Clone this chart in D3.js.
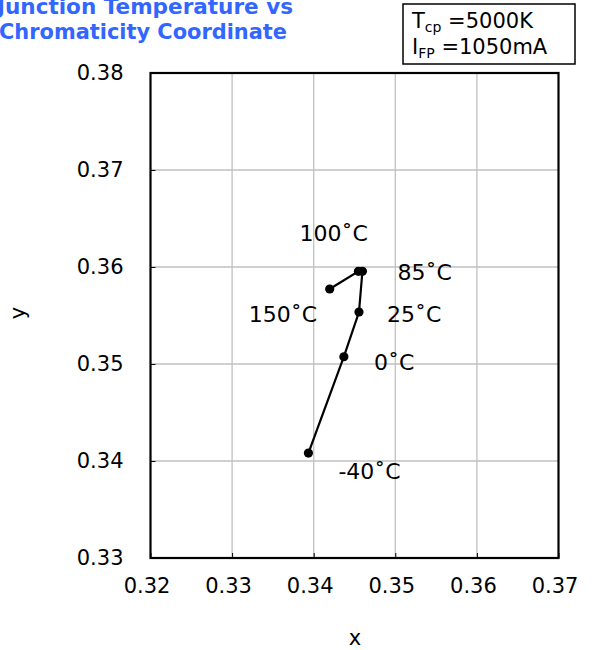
<!DOCTYPE html>
<html><head><meta charset="utf-8">
<script src="https://cdn.jsdelivr.net/npm/d3@7"></script>
<style>html,body{margin:0;padding:0;background:#fff;} svg{display:block;font-family:"DejaVu Sans",Verdana,sans-serif;}</style>
</head><body><div id="chart"></div>
<script>
const temps = ["-40", "0", "25", "85", "100", "150"];
const xVals = [0.33935, 0.3437, 0.34555, 0.34597, 0.34548, 0.34196];
const yVals = [0.34082, 0.35075, 0.35536, 0.35955, 0.35955, 0.35773];
const xTicks = [0.32, 0.33, 0.34, 0.35, 0.36, 0.37];
const yTicks = [0.33, 0.34, 0.35, 0.36, 0.37, 0.38];
const titleLines = ["Junction Temperature vs", "Chromaticity Coordinate"];

const W = 594, H = 650;
const L = 150.5, R = 558.5, T = 73, B = 558;
const svg = d3.select("#chart").append("svg").attr("width", W).attr("height", H);
const x = d3.scaleLinear().domain([0.32, 0.37]).range([L, R]);
const y = d3.scaleLinear().domain([0.33, 0.38]).range([B, T]);

// gridlines
svg.append("g").selectAll("line").data(xTicks.slice(1, -1)).join("line")
  .attr("x1", d => x(d)).attr("x2", d => x(d)).attr("y1", T).attr("y2", B)
  .attr("stroke", "#c0c0c0").attr("stroke-width", 1.3);
svg.append("g").selectAll("line").data(yTicks.slice(1, -1)).join("line")
  .attr("y1", d => y(d)).attr("y2", d => y(d)).attr("x1", L).attr("x2", R)
  .attr("stroke", "#c0c0c0").attr("stroke-width", 1.3);

// axes with inward ticks
const xAxis = d3.axisBottom(x).tickValues(xTicks).tickSize(-5).tickPadding(20).tickFormat(d3.format(".2f"));
const gx = svg.append("g").attr("transform", `translate(0,${B})`).call(xAxis);
const yAxis = d3.axisLeft(y).tickValues(yTicks).tickSize(-5).tickPadding(27).tickFormat(d3.format(".2f"));
const gy = svg.append("g").attr("transform", `translate(${L},0)`).call(yAxis);
[gx, gy].forEach(g => {
  g.select(".domain").remove();
  g.selectAll(".tick line").attr("stroke", "#000").attr("stroke-width", 1);
  g.selectAll("text").attr("font-size", 21).attr("fill", "#000").attr("font-family", "DejaVu Sans, Verdana, sans-serif");
});
gx.selectAll("text").attr("dx", -4);

// frame
svg.append("rect").attr("x", L).attr("y", T).attr("width", R - L).attr("height", B - T)
  .attr("fill", "none").attr("stroke", "#000").attr("stroke-width", 2.2);

// data line
const pts = temps.map((t, i) => ({t, x: xVals[i], y: yVals[i]}));
svg.append("path").datum(pts)
  .attr("d", d3.line().x(d => x(d.x)).y(d => y(d.y)))
  .attr("fill", "none").attr("stroke", "#000").attr("stroke-width", 2.2);
svg.append("g").selectAll("circle").data(pts).join("circle")
  .attr("cx", d => x(d.x)).attr("cy", d => y(d.y)).attr("r", 4.6).attr("fill", "#000");

// point labels (offsets from point)
const labelOffsets = [[30, 26], [30, 13], [28, 10], [35, 9], [-59, -30], [-81, 33]];
svg.append("g").selectAll("text").data(pts).join("text")
  .attr("x", (d, i) => x(d.x) + labelOffsets[i][0])
  .attr("y", (d, i) => y(d.y) + labelOffsets[i][1])
  .attr("font-size", 22).attr("fill", "#000")
  .text(d => d.t + "\u02DAC");

// axis titles
svg.append("text").attr("x", 355).attr("y", 645).attr("text-anchor", "middle")
  .attr("font-size", 21).text("x");
svg.append("text").attr("transform", "translate(25,313) rotate(-90)").attr("text-anchor", "middle")
  .attr("font-size", 21).text("y");

// title
svg.append("g").selectAll("text").data(titleLines).join("text")
  .attr("x", (d, i) => i === 0 ? -3 : -1).attr("y", (d, i) => 14 + i * 25)
  .attr("font-size", 21).attr("font-weight", "bold")
  .attr("textLength", (d, i) => i === 0 ? 296 : 288).attr("lengthAdjust", "spacingAndGlyphs")
  .attr("fill", "#3366ff").text(d => d);

// legend box
svg.append("rect").attr("x", 403).attr("y", 4).attr("width", 172).attr("height", 60)
  .attr("fill", "#fff").attr("stroke", "#000").attr("stroke-width", 1.5);
const leg = svg.append("g").attr("font-size", 21);
const t1 = leg.append("text").attr("x", 412).attr("y", 28);
t1.append("tspan").text("T");
t1.append("tspan").attr("font-size", 14).attr("dy", 4).text("cp");
t1.append("tspan").attr("dy", -4).text(" =5000K");
const t2 = leg.append("text").attr("x", 412).attr("y", 54);
t2.append("tspan").text("I");
t2.append("tspan").attr("font-size", 14).attr("dy", 4).text("FP");
t2.append("tspan").attr("dy", -4).text(" =1050mA");
</script></body></html>
